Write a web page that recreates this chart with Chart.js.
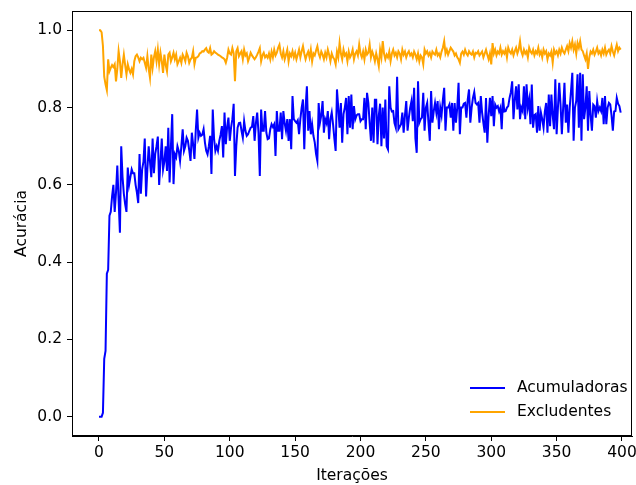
<!DOCTYPE html>
<html>
<head>
<meta charset="utf-8">
<script src="https://cdn.jsdelivr.net/npm/chart.js@4.4.1/dist/chart.umd.min.js"></script>
<style>
  html, body { margin: 0; padding: 0; background: #fff; }
  canvas { display: block; }
</style>
</head>
<body>
<canvas id="grafico" width="636" height="485"></canvas>
<script>
// series (one value per iteration)
const acumuladoras = [
  0, 0, 0, 0.01, 0.15, 0.17, 0.37, 0.38, 0.52, 0.53,
  0.57, 0.60, 0.53, 0.58, 0.65, 0.56, 0.476, 0.70, 0.62, 0.577,
  0.55, 0.53, 0.645, 0.60, 0.62, 0.64, 0.63, 0.63, 0.60, 0.58,
  0.553, 0.68, 0.577, 0.64, 0.66, 0.72, 0.57, 0.64, 0.70, 0.66,
  0.62, 0.72, 0.63, 0.68, 0.70, 0.725, 0.60, 0.66, 0.72, 0.64,
  0.66, 0.70, 0.636, 0.748, 0.606, 0.70, 0.783, 0.602, 0.679, 0.671,
  0.70, 0.688, 0.662, 0.70, 0.744, 0.688, 0.70, 0.722, 0.714, 0.69,
  0.662, 0.735, 0.705, 0.667, 0.74, 0.795, 0.722, 0.735, 0.727, 0.73,
  0.744, 0.71, 0.688, 0.679, 0.70, 0.727, 0.628, 0.795, 0.72, 0.688,
  0.70, 0.688, 0.714, 0.73, 0.752, 0.671, 0.787, 0.705, 0.75, 0.774,
  0.714, 0.748, 0.77, 0.81, 0.623, 0.70, 0.748, 0.76, 0.761, 0.74,
  0.722, 0.765, 0.74, 0.727, 0.731, 0.74, 0.748, 0.75, 0.778, 0.714,
  0.76, 0.787, 0.735, 0.623, 0.795, 0.74, 0.74, 0.791, 0.735, 0.718,
  0.72, 0.744, 0.757, 0.75, 0.757, 0.675, 0.791, 0.74, 0.74, 0.787,
  0.718, 0.791, 0.76, 0.74, 0.77, 0.714, 0.77, 0.692, 0.83, 0.77,
  0.765, 0.761, 0.767, 0.731, 0.77, 0.80, 0.821, 0.692, 0.80, 0.855,
  0.74, 0.791, 0.731, 0.757, 0.727, 0.71, 0.68, 0.662, 0.812, 0.761,
  0.78, 0.817, 0.735, 0.77, 0.76, 0.791, 0.718, 0.77, 0.787, 0.757,
  0.72, 0.688, 0.847, 0.80, 0.748, 0.812, 0.709, 0.783, 0.80, 0.825,
  0.731, 0.83, 0.748, 0.834, 0.744, 0.804, 0.77, 0.78, 0.783, 0.783,
  0.765, 0.77, 0.77, 0.825, 0.744, 0.838, 0.812, 0.76, 0.714, 0.80,
  0.709, 0.82, 0.82, 0.705, 0.78, 0.81, 0.70, 0.80, 0.72, 0.821,
  0.70, 0.692, 0.855, 0.80, 0.79, 0.791, 0.76, 0.748, 0.88, 0.744,
  0.75, 0.757, 0.787, 0.735, 0.78, 0.817, 0.74, 0.774, 0.80, 0.817,
  0.765, 0.851, 0.72, 0.683, 0.868, 0.761, 0.77, 0.774, 0.838, 0.74,
  0.80, 0.812, 0.76, 0.714, 0.843, 0.761, 0.79, 0.812, 0.787, 0.817,
  0.744, 0.80, 0.78, 0.82, 0.851, 0.74, 0.80, 0.80, 0.808, 0.774,
  0.812, 0.74, 0.812, 0.761, 0.80, 0.864, 0.731, 0.80, 0.80, 0.81,
  0.812, 0.774, 0.821, 0.847, 0.761, 0.80, 0.825, 0.84, 0.812, 0.808,
  0.812, 0.761, 0.83, 0.787, 0.76, 0.735, 0.825, 0.709, 0.78, 0.825,
  0.778, 0.83, 0.752, 0.808, 0.80, 0.804, 0.79, 0.80, 0.744, 0.825,
  0.79, 0.791, 0.80, 0.804, 0.825, 0.84, 0.868, 0.77, 0.82, 0.855,
  0.795, 0.86, 0.77, 0.80, 0.791, 0.855, 0.77, 0.86, 0.80, 0.821,
  0.757, 0.86, 0.748, 0.78, 0.783, 0.735, 0.804, 0.74, 0.787, 0.77,
  0.748, 0.79, 0.812, 0.735, 0.834, 0.752, 0.834, 0.78, 0.744, 0.873,
  0.731, 0.80, 0.864, 0.808, 0.731, 0.80, 0.864, 0.761, 0.808, 0.735,
  0.80, 0.843, 0.89, 0.714, 0.80, 0.817, 0.886, 0.748, 0.89, 0.714,
  0.886, 0.77, 0.80, 0.855, 0.74, 0.843, 0.78, 0.74, 0.808, 0.804,
  0.774, 0.817, 0.791, 0.80, 0.791, 0.825, 0.757, 0.83, 0.757, 0.80,
  0.812, 0.808, 0.78, 0.74, 0.79, 0.791, 0.825, 0.81, 0.804, 0.787
]

const excludentes = [
  1.0, 1.0, 0.995, 0.96, 0.88, 0.86, 0.845, 0.925, 0.894, 0.903,
  0.91, 0.905, 0.912, 0.868, 0.90, 0.946, 0.92, 0.877, 0.912, 0.937,
  0.91, 0.886, 0.912, 0.899, 0.89, 0.90, 0.886, 0.92, 0.933, 0.937,
  0.93, 0.92, 0.929, 0.925, 0.929, 0.916, 0.903, 0.933, 0.90, 0.877,
  0.937, 0.903, 0.93, 0.946, 0.92, 0.95, 0.912, 0.942, 0.92, 0.89,
  0.937, 0.91, 0.894, 0.937, 0.942, 0.92, 0.93, 0.942, 0.925, 0.937,
  0.912, 0.92, 0.929, 0.916, 0.937, 0.93, 0.92, 0.942, 0.933, 0.916,
  0.925, 0.929, 0.946, 0.912, 0.929, 0.93, 0.933, 0.94, 0.942, 0.946,
  0.945, 0.95, 0.954, 0.945, 0.942, 0.954, 0.937, 0.94, 0.946, 0.942,
  0.94, 0.937, 0.935, 0.933, 0.93, 0.928, 0.925, 0.916, 0.929, 0.95,
  0.94, 0.937, 0.954, 0.94, 0.868, 0.946, 0.954, 0.933, 0.94, 0.946,
  0.925, 0.95, 0.935, 0.94, 0.92, 0.93, 0.942, 0.935, 0.93, 0.925,
  0.93, 0.937, 0.945, 0.954, 0.92, 0.935, 0.942, 0.93, 0.935, 0.929,
  0.94, 0.925, 0.945, 0.93, 0.95, 0.935, 0.942, 0.955, 0.963, 0.94,
  0.93, 0.946, 0.925, 0.937, 0.95, 0.92, 0.94, 0.933, 0.946, 0.93,
  0.942, 0.925, 0.937, 0.95, 0.93, 0.946, 0.959, 0.94, 0.925, 0.937,
  0.945, 0.93, 0.95, 0.92, 0.94, 0.935, 0.948, 0.959, 0.94, 0.93,
  0.945, 0.937, 0.925, 0.942, 0.93, 0.95, 0.937, 0.92, 0.94, 0.93,
  0.925, 0.912, 0.945, 0.93, 0.967, 0.94, 0.925, 0.95, 0.935, 0.94,
  0.92, 0.945, 0.93, 0.937, 0.95, 0.925, 0.94, 0.946, 0.935, 0.963,
  0.94, 0.93, 0.945, 0.925, 0.95, 0.937, 0.942, 0.963, 0.93, 0.945,
  0.935, 0.92, 0.94, 0.925, 0.907, 0.95, 0.93, 0.972, 0.94, 0.925,
  0.937, 0.93, 0.945, 0.92, 0.94, 0.95, 0.935, 0.942, 0.93, 0.946,
  0.94, 0.925, 0.95, 0.937, 0.945, 0.93, 0.94, 0.946, 0.935, 0.94,
  0.93, 0.945, 0.937, 0.925, 0.94, 0.92, 0.935, 0.93, 0.912, 0.95,
  0.94, 0.946, 0.935, 0.942, 0.93, 0.945, 0.94, 0.937, 0.95, 0.935,
  0.94, 0.93, 0.945, 0.955, 0.972, 0.94, 0.95, 0.937, 0.946, 0.955,
  0.95, 0.945, 0.935, 0.94, 0.93, 0.925, 0.916, 0.94, 0.945, 0.937,
  0.95, 0.94, 0.935, 0.946, 0.94, 0.937, 0.945, 0.93, 0.942, 0.94,
  0.946, 0.935, 0.94, 0.945, 0.93, 0.94, 0.95, 0.937, 0.925, 0.94,
  0.912, 0.967, 0.94, 0.95, 0.935, 0.945, 0.94, 0.955, 0.937, 0.946,
  0.94, 0.95, 0.93, 0.955, 0.945, 0.94, 0.95, 0.935, 0.946, 0.955,
  0.94, 0.95, 0.972, 0.945, 0.935, 0.95, 0.94, 0.946, 0.93, 0.955,
  0.945, 0.94, 0.95, 0.935, 0.946, 0.94, 0.955, 0.937, 0.945, 0.93,
  0.95, 0.94, 0.946, 0.925, 0.94, 0.935, 0.945, 0.916, 0.95, 0.94,
  0.946, 0.935, 0.95, 0.94, 0.955, 0.945, 0.94, 0.95, 0.959, 0.946,
  0.967, 0.955, 0.972, 0.95, 0.963, 0.94, 0.967, 0.955, 0.972, 0.95,
  0.946, 0.935, 0.925, 0.94, 0.90, 0.93, 0.945, 0.94, 0.95, 0.937,
  0.945, 0.955, 0.94, 0.946, 0.935, 0.95, 0.94, 0.955, 0.937, 0.945,
  0.95, 0.94, 0.959, 0.945, 0.935, 0.95, 0.963, 0.946, 0.955, 0.95
]

// axis ticks
const ticksX = [0, 50, 100, 150, 200, 250, 300, 350, 400]
const ticksY = [0.0, 0.2, 0.4, 0.6, 0.8, 1.0]

const nomes = ['Acumuladoras', 'Excludentes']
const cores = ['#0000ff', '#ffa500']

const FONTE = "'DejaVu Sans', sans-serif"
const TAM = 15.5

// points: x = iteration index
const pontos = (serie) => serie.map((v, i) => ({ x: i, y: v }))

// black frame on all four sides + legend at lower right
const moldura = {
    id: 'moldura',
    afterDraw(chart) {
        const { ctx, chartArea: a } = chart
        ctx.save()
        ctx.strokeStyle = '#000'
        ctx.lineWidth = 1
        ctx.strokeRect(Math.round(a.left) + 0.5, Math.round(a.top) + 0.5,
            Math.round(a.right - a.left) - 1, Math.round(a.bottom - a.top) - 1)

        // legend
        ctx.font = TAM + 'px ' + FONTE
        ctx.textBaseline = 'middle'
        ctx.fillStyle = '#000'
        const linhas = [388, 412]
        chart.data.datasets.forEach((ds, k) => {
            const y = linhas[k]
            ctx.strokeStyle = ds.borderColor
            ctx.lineWidth = 2
            ctx.beginPath()
            ctx.moveTo(470, y)
            ctx.lineTo(505, y)
            ctx.stroke()
            ctx.fillText(ds.label, 517, y)
        })
        ctx.restore()
    }
}

// fixed axis boxes so the plot area sits where the reference has it
function semFolga(s) {
    s.paddingTop = 0
    s.paddingBottom = 0
    s.paddingLeft = 0
    s.paddingRight = 0
}

const ctx = document.getElementById('grafico').getContext('2d')
new Chart(ctx, {
    type: 'line',
    data: {
        datasets: [
            {
                label: nomes[0],
                data: pontos(acumuladoras),
                borderColor: cores[0],
                backgroundColor: cores[0],
                borderWidth: 2,
                pointRadius: 0,
                tension: 0,
                order: 2
            },
            {
                label: nomes[1],
                data: pontos(excludentes),
                borderColor: cores[1],
                backgroundColor: cores[1],
                borderWidth: 2,
                pointRadius: 0,
                tension: 0,
                order: 1
            }
        ]
    },
    options: {
        responsive: false,
        animation: false,
        layout: { padding: { top: 11, right: 4, bottom: 0, left: 0 } },
        plugins: {
            legend: { display: false },
            tooltip: { enabled: false }
        },
        scales: {
            x: {
                type: 'linear',
                min: -20.65,
                max: 407.65,
                afterBuildTicks: (s) => { s.ticks = ticksX.map(v => ({ value: v })) },
                afterFit: (s) => { s.height = 49; semFolga(s) },
                grid: { drawOnChartArea: false, drawTicks: true, tickLength: 5, tickColor: '#000' },
                border: { display: true, color: '#000', width: 1 },
                ticks: {
                    color: '#000', padding: 3, maxRotation: 0,
                    font: { family: FONTE, size: TAM },
                    callback: (v) => String(v)
                },
                title: {
                    display: true, text: 'Iterações', color: '#000',
                    font: { family: FONTE, size: TAM }, padding: { top: 0, bottom: 0 }
                }
            },
            y: {
                type: 'linear',
                min: -0.05,
                max: 1.05,
                afterBuildTicks: (s) => { s.ticks = ticksY.map(v => ({ value: v })) },
                afterFit: (s) => { s.width = 72; semFolga(s) },
                grid: { drawOnChartArea: false, drawTicks: true, tickLength: 5, tickColor: '#000' },
                border: { display: true, color: '#000', width: 1 },
                ticks: {
                    color: '#000', padding: 5,
                    font: { family: FONTE, size: TAM },
                    callback: (v) => Number(v).toFixed(1)
                },
                title: {
                    display: true, text: 'Acurácia', color: '#000',
                    font: { family: FONTE, size: TAM }, padding: { top: 13, bottom: 0 }
                }
            }
        }
    },
    plugins: [moldura]
})
</script>
</body>
</html>
